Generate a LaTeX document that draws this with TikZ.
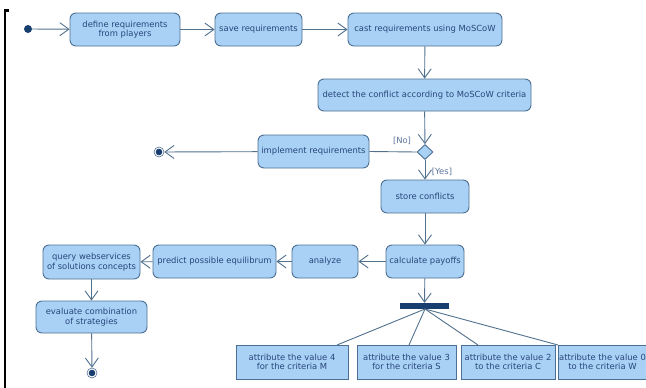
\documentclass[tikz,border=0pt]{standalone}
\usepackage{fontspec}
\setmainfont{DejaVu Sans}
\usetikzlibrary{arrows.meta,shapes.geometric}
\definecolor{boxfill}{HTML}{A9D1F5}
\definecolor{boxline}{HTML}{4D6F93}
\definecolor{txt}{HTML}{27467A}
\definecolor{navy}{HTML}{163E6E}
\definecolor{conn}{HTML}{51718F}
\tikzset{
  act/.style={draw=boxline, fill=boxfill, line width=0.9pt, rounded corners=6pt,
    text=txt, font=\fontsize{8.4}{9.6}\selectfont, align=center, inner sep=1pt, minimum height=33pt},
  sq/.style={draw=boxline, fill=boxfill, line width=0.9pt,
    text=txt, font=\fontsize{8.4}{9.6}\selectfont, align=center, inner sep=1pt, minimum height=34pt},
  flow/.style={draw=conn, line width=0.9pt, -{Straight Barb[length=9pt,width=13pt,line width=0.9pt]}},
  plain/.style={draw=conn, line width=0.9pt},
  lbl/.style={text=txt!75, font=\fontsize{8.4}{9.6}\selectfont, inner sep=0pt},
}
\begin{document}
\begin{tikzpicture}[x=1pt,y=-1pt]
\useasboundingbox (0,0) rectangle (646,388);
\clip (0,0) rectangle (646,388);
\fill[white] (0,0) rectangle (646,388);
% left bracket
\draw[black, line width=2.6pt] (9,10.5) -- (5,10.5) -- (5,390);
% nodes
\node[circle, fill=navy, inner sep=0pt, minimum size=8pt] (start) at (28,29) {};
\node[act, minimum width=110pt] (def) at (125,29.5) {define requirements\\from players};
\node[act, minimum width=87pt] (save) at (258.5,29.5) {save requirements};
\node[act, minimum width=154pt] (cast) at (425,29.5) {cast requirements using MoSCoW};
\node[act, minimum width=213pt, minimum height=32pt] (detect) at (424.5,95) {detect the conflict according to MoSCoW criteria};
\node[diamond, draw=boxline, fill=boxfill, line width=0.9pt, inner sep=0pt, minimum width=16pt, minimum height=15pt] (dec) at (425,152) {};
\node[act, minimum width=111pt] (impl) at (313.5,151.5) {implement requirements};
\node[circle, draw=conn, fill=white, line width=0.6pt, inner sep=0pt, minimum size=10pt] (end1) at (159,152) {};
\fill[navy] (end1.center) circle (3.3pt);
\node[act, minimum width=88pt] (store) at (425,196.5) {store conflicts};
\node[act, minimum width=78pt] (calc) at (425,261.5) {calculate payoffs};
\node[act, minimum width=66pt] (anal) at (325,261.5) {analyze};
\node[act, minimum width=123pt] (pred) at (214.5,261.5) {predict possible equilibrum};
\node[act, minimum width=97pt, minimum height=34pt] (query) at (91.5,262) {query webservices\\of solutions concepts};
\node[act, minimum width=111pt, minimum height=32pt] (eval) at (91.5,317) {evaluate combination\\of strategies};
\node[circle, draw=conn, fill=white, line width=0.6pt, inner sep=0pt, minimum size=10pt] (end2) at (92,373) {};
\fill[navy] (end2.center) circle (3.3pt);
\node[fill=navy, inner sep=0pt, minimum width=49pt, minimum height=6pt] (bar) at (424.5,306) {};
\node[sq, minimum width=112pt] (m) at (292,362) {attribute the value 4\\for the criteria M};
\node[sq, minimum width=99pt] (s) at (406.5,362) {attribute the value 3\\for the criteria S};
\node[sq, minimum width=94pt] (c) at (508,362) {attribute the value 2\\to the criteria C};
\node[sq, inner sep=0pt, minimum width=89pt] (w) at (602.5,362) {attribute the value 0\\to the criteria W};
% labels
\node[lbl] (no) at (402,140.5) {[No]};
\node[lbl] (yes) at (442,172) {[Yes]};
% connectors
\draw[flow] (start) -- (def);
\draw[flow] (def) -- (save);
\draw[flow] (save) -- (cast);
\draw[flow] (cast) -- (detect);
\draw[flow] (detect) -- (dec);
\draw[plain] (dec.west) -- (impl.east);
\draw[flow] (impl) -- (end1);
\draw[flow] (dec) -- (store);
\draw[flow] (store) -- (calc);
\draw[flow] (calc) -- (anal);
\draw[flow] (anal) -- (pred);
\draw[flow] (pred) -- (query);
\draw[flow] (query) -- (eval);
\draw[flow] (eval) -- (end2);
\draw[flow] (calc) -- (bar);
\coordinate (bj) at (425,309);
\coordinate (mt) at (337,345);
\coordinate (st) at (409,345);
\coordinate (ct) at (478,345);
\coordinate (wt) at (558,345);
\draw[plain] (bj) -- (mt);
\draw[plain] (bj) -- (st);
\draw[plain] (bj) -- (ct);
\draw[plain] (bj) -- (wt);
\end{tikzpicture}
\end{document}
